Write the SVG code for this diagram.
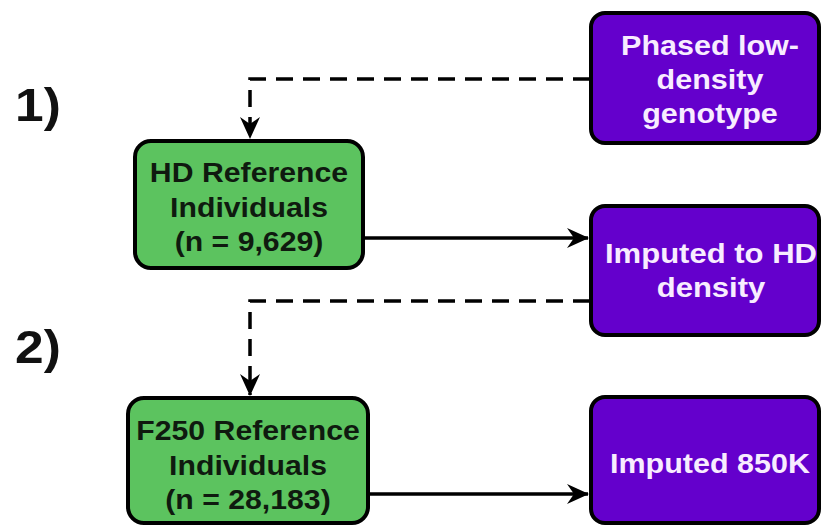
<svg xmlns="http://www.w3.org/2000/svg" width="822" height="525" viewBox="0 0 822 525">
<defs>
<style>
.g{fill:#5cc35f;stroke:#000;stroke-width:4}
.p{fill:#6400cc;stroke:#000;stroke-width:4}
.tg{font-family:"Liberation Sans",Arial,sans-serif;font-weight:bold;font-size:27px;fill:#0f1a0f;text-anchor:middle}
.tp{font-family:"Liberation Sans",Arial,sans-serif;font-weight:bold;font-size:27px;fill:#f8ecff;text-anchor:middle}
.num{font-family:"Liberation Sans",Arial,sans-serif;font-weight:bold;font-size:46px;fill:#111}
.c{fill:none;stroke:#000;stroke-width:3.5}
.d{stroke-dasharray:17 10}
</style>
<marker id="ah" viewBox="0 0 22 22" refX="21" refY="11" markerWidth="22" markerHeight="22" markerUnits="userSpaceOnUse" orient="auto">
<path d="M0,1 L22,11 L0,21 L7,11 Z" fill="#000"/>
</marker>
</defs>
<text class="num" transform="translate(15,0) scale(1.12,1)" x="0" y="121">1)</text>
<text class="num" transform="translate(15,0) scale(1.12,1)" x="0" y="363">2)</text>
<g id="connectors">
<path class="c d" d="M590,79 H250 V138" marker-end="url(#ah)"/>
<path class="c" d="M363,238 H588" marker-end="url(#ah)"/>
<path class="c d" d="M590,301 H250 V395" marker-end="url(#ah)"/>
<path class="c" d="M368,494 H588" marker-end="url(#ah)"/>
</g>
<g id="phased">
<rect class="p" x="591" y="13" width="228" height="130" rx="14"/>
<text class="tp" transform="translate(710,0) scale(1.13,1)"><tspan x="0" y="55">Phased low-</tspan><tspan x="0" y="89">density</tspan><tspan x="0" y="123">genotype</tspan></text>
</g>
<g id="hd">
<rect class="g" x="135" y="141" width="228" height="127" rx="16"/>
<text class="tg" transform="translate(249,0) scale(1.12,1)"><tspan x="0" y="182">HD Reference</tspan><tspan x="0" y="217">Individuals</tspan><tspan x="0" y="251">(n = 9,629)</tspan></text>
</g>
<g id="imputedhd">
<rect class="p" x="591" y="206" width="228" height="129" rx="14"/>
<text class="tp" transform="translate(711,0) scale(1.15,1)"><tspan x="0" y="263">Imputed to HD</tspan><tspan x="0" y="297">density</tspan></text>
</g>
<g id="f250">
<rect class="g" x="128" y="398" width="240" height="125" rx="16"/>
<text class="tg" transform="translate(248,0) scale(1.12,1)"><tspan x="0" y="440">F250 Reference</tspan><tspan x="0" y="475">Individuals</tspan><tspan x="0" y="509">(n = 28,183)</tspan></text>
</g>
<g id="imputed850">
<rect class="p" x="591" y="397" width="228" height="126" rx="14"/>
<text class="tp" transform="translate(710,0) scale(1.13,1)"><tspan x="0" y="473">Imputed 850K</tspan></text>
</g>
</svg>
